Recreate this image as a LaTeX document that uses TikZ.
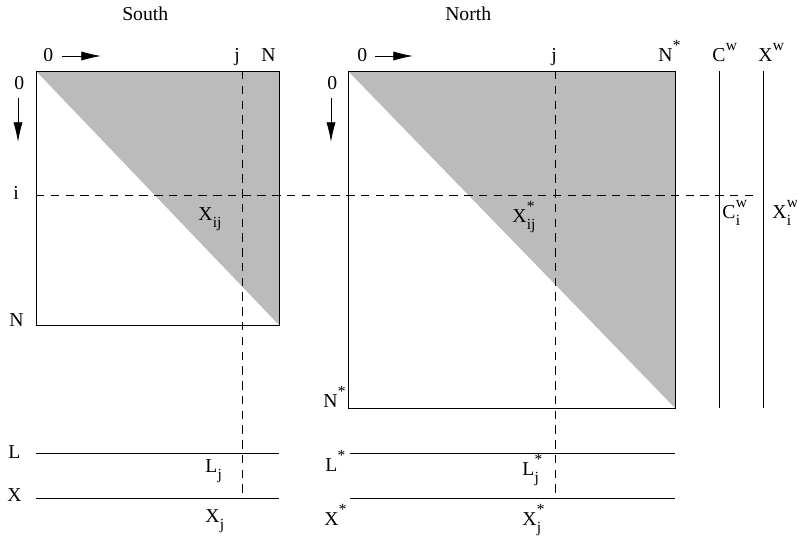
\documentclass[tikz,border=0pt]{standalone}
\usepackage{fontspec}
\setmainfont{Liberation Serif}
\usetikzlibrary{arrows.meta}

\definecolor{tone}{RGB}{187,187,187}

% base with superscript and subscript, set as text
\newlength\suplen
\newlength\sublen
\newcommand{\subfont}{\fontsize{11}{11}\selectfont}
\newcommand{\sx}[3]{#1\kern0.3pt%
  \settowidth\suplen{\subfont #2}\settowidth\sublen{\subfont #3}%
  \makebox[0pt][l]{\raisebox{0.55em}{\subfont #2}}%
  \makebox[0pt][l]{\raisebox{-0.38em}{\subfont #3}}%
  \ifdim\suplen>\sublen\hspace{\suplen}\else\hspace{\sublen}\fi}

\tikzset{
  lab/.style={font=\fontsize{14}{16}\selectfont, inner sep=0pt, anchor=base west},
  edge/.style={line width=0.6pt},
  cut/.style={line width=0.6pt, dash pattern=on 6pt off 4.5pt},
  dir/.style={line width=0.6pt, -{Latex[length=14pt,width=6.5pt]}}
}

\begin{document}
\begin{tikzpicture}[x=0.025cm,y=-0.025cm]

  \useasboundingbox (0,0) rectangle (797,540);

  % Titles
  \node[lab] (south) at (122,20) {South};
  \node[lab] (north) at (445,20) {North};

  % South matrix with its shaded upper triangle
  \fill[tone] (36,71) -- (279,71) -- (279,325) -- cycle;
  \draw[edge] (36,71) rectangle (279,325);

  % North matrix with its shaded upper triangle
  \fill[tone] (348,71) -- (675,71) -- (675,408) -- cycle;
  \draw[edge] (348,71) rectangle (675,408);

  % Column vectors C^w and X^w
  \coordinate (cwtop) at (719,71);
  \coordinate (cwbot) at (719,408);
  \coordinate (xwtop) at (763,71);
  \coordinate (xwbot) at (763,408);
  \draw[edge] (cwtop) -- (cwbot);
  \draw[edge] (xwtop) -- (xwbot);

  % Row vectors L, X and L^*, X^*
  \coordinate (sl0) at (36,453);  \coordinate (sl1) at (279,453);
  \coordinate (sx0) at (36,498);  \coordinate (sx1) at (279,498);
  \coordinate (nl0) at (350,453); \coordinate (nl1) at (675,453);
  \coordinate (nx0) at (350,498); \coordinate (nx1) at (675,498);
  \draw[edge] (sl0) -- (sl1);
  \draw[edge] (sx0) -- (sx1);
  \draw[edge] (nl0) -- (nl1);
  \draw[edge] (nx0) -- (nx1);

  % Index lines i and j
  \coordinate (irow0) at (36,195);
  \coordinate (irow1) at (757,195);
  \coordinate (sj0) at (242,71);  \coordinate (sj1) at (242,498);
  \coordinate (nj0) at (555,71);  \coordinate (nj1) at (555,498);
  \draw[cut] (irow0) -- (irow1);
  \draw[cut] (sj0) -- (sj1);
  \draw[cut] (nj0) -- (nj1);

  % Axis labels of the South matrix
  \node[lab] (s0top) at (43,61) {0};
  \node[lab] (s0left) at (14,89) {0};
  \node[lab] (sj) at (234,61) {j};
  \node[lab] (sn) at (261,61) {N};
  \node[lab] (si) at (13,199) {i};
  \node[lab] (snleft) at (9,326) {N};
  \coordinate (sarr0) at (62,56);  \coordinate (sarr1) at (101,56);
  \coordinate (sdown0) at (18,98); \coordinate (sdown1) at (18,142);
  \draw[dir] (sarr0) -- (sarr1);
  \draw[dir] (sdown0) -- (sdown1);

  % Axis labels of the North matrix
  \node[lab] (n0top) at (357,61) {0};
  \node[lab] (n0left) at (327,89) {0};
  \node[lab] (nj) at (551,61) {j};
  \node[lab] (nn) at (658,61) {\sx{N}{*}{}};
  \node[lab] (nnleft) at (323,407) {\sx{N}{*}{}};
  \coordinate (narr0) at (375,56);  \coordinate (narr1) at (413,56);
  \coordinate (ndown0) at (331,98); \coordinate (ndown1) at (331,142);
  \draw[dir] (narr0) -- (narr1);
  \draw[dir] (ndown0) -- (ndown1);

  % Column vector labels
  \node[lab] (cw) at (712,61) {\sx{C}{w}{}};
  \node[lab] (xw) at (758,61) {\sx{X}{w}{}};
  \node[lab] (cwi) at (722,218) {\sx{C}{w}{i}};
  \node[lab] (xwi) at (772,218) {\sx{X}{w}{i}};

  % Element labels
  \node[lab] (xij) at (198,220) {\sx{X}{}{ij}};
  \node[lab] (xsij) at (512,222) {\sx{X}{*}{ij}};

  % Row vector labels
  \node[lab] (ll) at (8,458) {L};
  \node[lab] (lx) at (7,501) {X};
  \node[lab] (lj) at (205,472) {\sx{L}{}{j}};
  \node[lab] (xj) at (205,522) {\sx{X}{}{j}};
  \node[lab] (lsl) at (325,471) {\sx{L}{*}{}};
  \node[lab] (lsx) at (324,525) {\sx{X}{*}{}};
  \node[lab] (lsj) at (522,475) {\sx{L}{*}{j}};
  \node[lab] (xsj) at (522,525) {\sx{X}{*}{j}};

\end{tikzpicture}
\end{document}
